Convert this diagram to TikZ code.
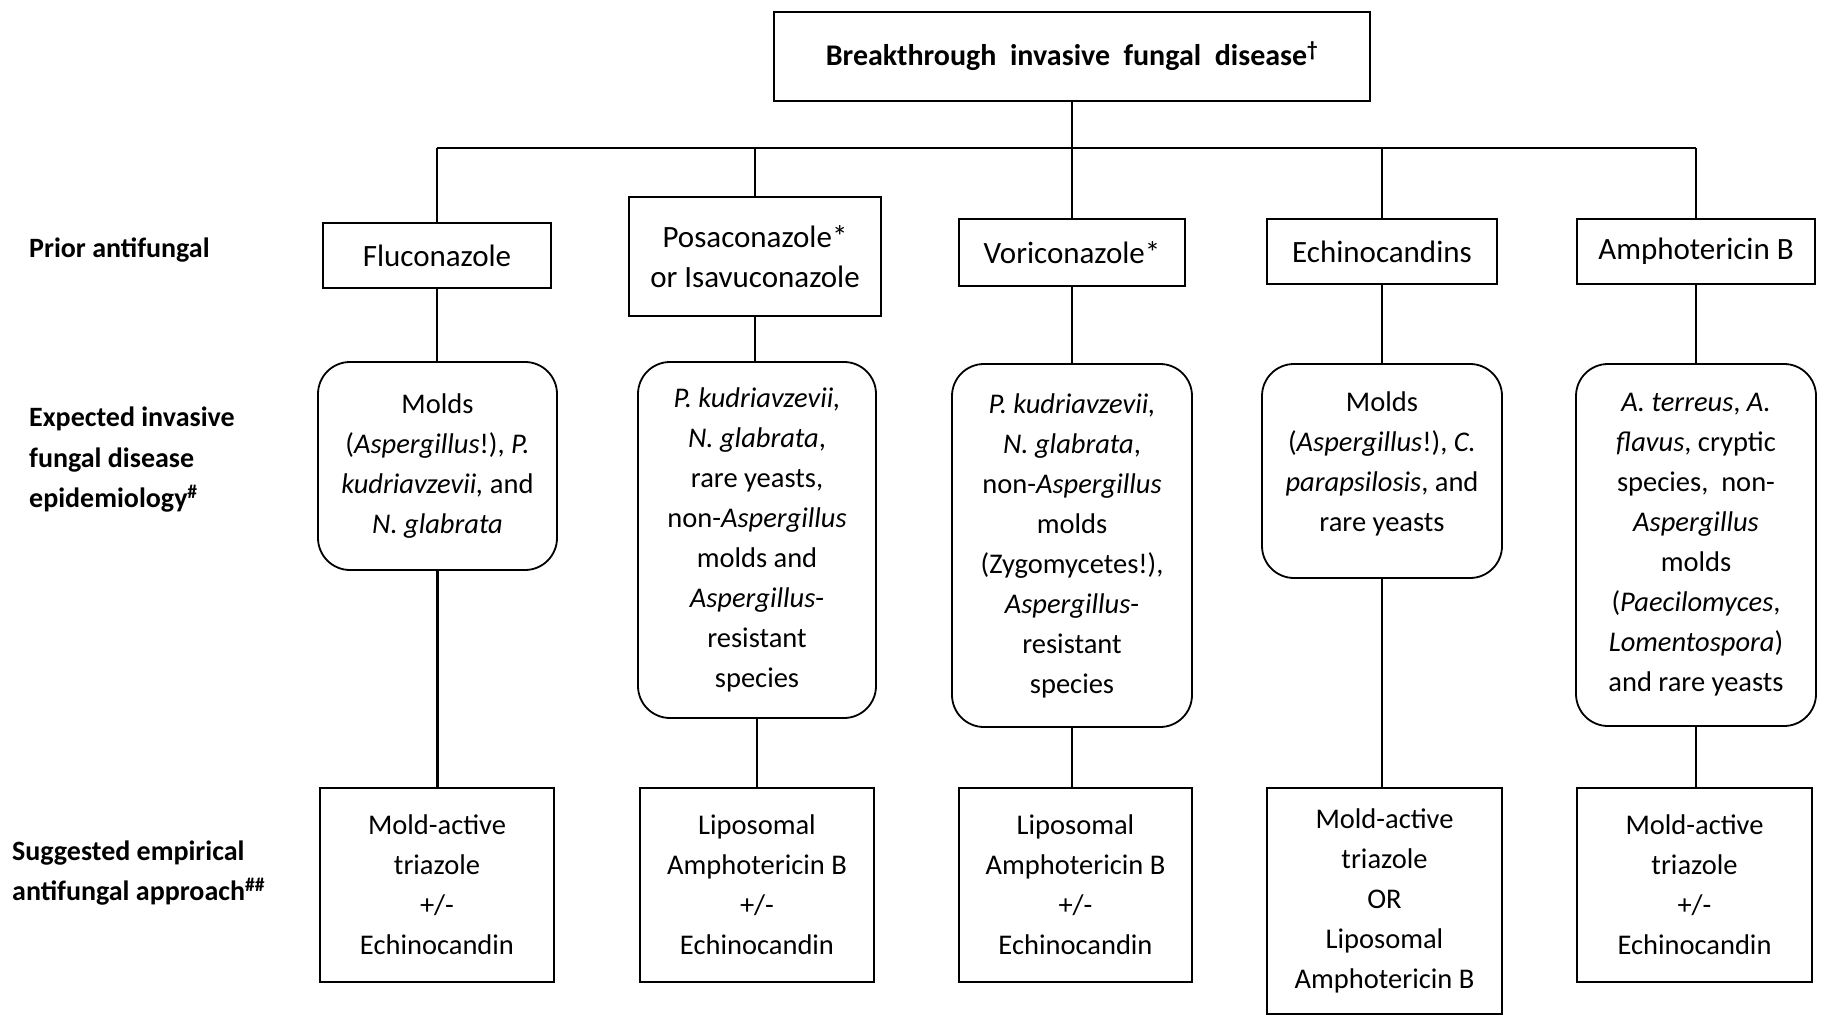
\documentclass[tikz,border=0pt]{standalone}
\usepackage{fontspec}
\setmainfont{Carlito}
\usepackage{tikz}
\usetikzlibrary{positioning, calc}
\tikzstyle{topblock} = [rectangle, draw, line width=2.6pt, minimum width=596pt, minimum height=89pt, inner sep=0pt, font=\fontsize{30}{36}\selectfont\bfseries]
\tikzstyle{drugblock} = [rectangle, draw, line width=1.8pt, inner sep=0pt, align=center, font=\fontsize{31}{40}\selectfont]
\tikzstyle{epiblock} = [rectangle, draw, line width=1.8pt, rounded corners=32pt, inner sep=0pt, align=center, font=\fontsize{28.5}{40}\selectfont]
\tikzstyle{regblock} = [rectangle, draw, line width=1.8pt, inner sep=0pt, align=center, font=\fontsize{28.5}{40}\selectfont]
\tikzstyle{rowlabel} = [anchor=west, align=left, inner sep=0pt, font=\fontsize{28}{40.5}\selectfont\bfseries]
\tikzstyle{line} = [line width=2.4pt]

\begin{document}
\begin{tikzpicture}[x=1pt, y=-1pt]
    \useasboundingbox (0,0) rectangle (1824,1016);

    % row labels
    \node (lprior) [rowlabel] at (29,250) {Prior antifungal};
    \node (lepi) [rowlabel] at (29,460) {Expected invasive\\fungal disease\\epidemiology\textsuperscript{\#}};
    \node (lreg) [rowlabel] at (12,873) {Suggested empirical\\antifungal approach\textsuperscript{\#\#}};

    \node (top) [topblock] at (1072,56.5) {Breakthrough\ \ invasive\ \ fungal\ \ disease\textsuperscript{\textdagger}};

    % prior antifungal
    \node (drug1) [drugblock, minimum width=228pt, minimum height=65pt] at (437,255.5) {Fluconazole};
    \node (drug2) [drugblock, minimum width=252pt, minimum height=119pt] at (755,256.5) {Posaconazole*\\or Isavuconazole};
    \node (drug3) [drugblock, minimum width=226pt, minimum height=67pt] at (1072,252.5) {Voriconazole*};
    \node (drug4) [drugblock, minimum width=230pt, minimum height=65pt] at (1382,251.5) {Echinocandins};
    \node (drug5) [drugblock, minimum width=238pt, minimum height=65pt] at (1696,251.5) {Amphotericin B};

    % epidemiology
    \node (epi1) [epiblock, minimum width=239pt, minimum height=208pt] at (437.5,466) {Molds\\(\textit{Aspergillus}!), \textit{P.}\\\textit{kudriavzevii,} and\\\textit{N. glabrata}};
    \node (epi2) [epiblock, minimum width=238pt, minimum height=356pt] at (757,540) {\textit{P. kudriavzevii,}\\\textit{N. glabrata},\\rare yeasts,\\non-\textit{Aspergillus}\\molds and\\\textit{Aspergillus}-\\resistant\\species};
    \node (epi3) [epiblock, minimum width=240pt, minimum height=363pt] at (1072,545.5) {\textit{P. kudriavzevii,}\\\textit{N. glabrata},\\non-\textit{Aspergillus}\\molds\\(Zygomycetes!),\\\textit{Aspergillus}-\\resistant\\species};
    \node (epi4) [epiblock, minimum width=240pt, minimum height=214pt] at (1382,471) {Molds\\(\textit{Aspergillus}!), \textit{C.}\\\textit{parapsilosis}, and\\rare yeasts\\[-22pt]};
    \node (epi5) [epiblock, minimum width=240pt, minimum height=362pt] at (1696,545) {\textit{A. terreus}, \textit{A.}\\\textit{flavus}, cryptic\\species,\ \ non-\\\textit{Aspergillus}\\molds\\(\textit{Paecilomyces},\\\textit{Lomentospora})\\and rare yeasts};

    % empirical approach
    \node (reg1) [regblock, minimum width=234pt, minimum height=194pt] at (437,885) {Mold-active\\triazole\\+/-\\Echinocandin};
    \node (reg2) [regblock, minimum width=234pt, minimum height=194pt] at (757,885) {Liposomal\\Amphotericin B\\+/-\\Echinocandin};
    \node (reg3) [regblock, minimum width=233pt, minimum height=194pt] at (1075.5,885) {Liposomal\\Amphotericin B\\+/-\\Echinocandin};
    \node (reg4) [regblock, minimum width=235pt, minimum height=226pt] at (1384.5,901) {Mold-active\\triazole\\OR\\Liposomal\\Amphotericin B};
    \node (reg5) [regblock, minimum width=235pt, minimum height=194pt] at (1694.5,885) {Mold-active\\triazole\\+/-\\Echinocandin};

    \coordinate (bus) at (0,148);
    \draw [line] (top.south) -- (top.south |- bus);
    \draw [line] (drug1.north |- bus) -- (drug5.north |- bus);
    \foreach \i in {1,...,5} {
        \draw [line] (drug\i.north |- bus) -- (drug\i.north);
        \draw [line] (drug\i.south) -- (drug\i.south |- epi\i.north);
        \draw [line] (epi\i.south) -- (epi\i.south |- reg\i.north);
    }
\end{tikzpicture}
\end{document}
